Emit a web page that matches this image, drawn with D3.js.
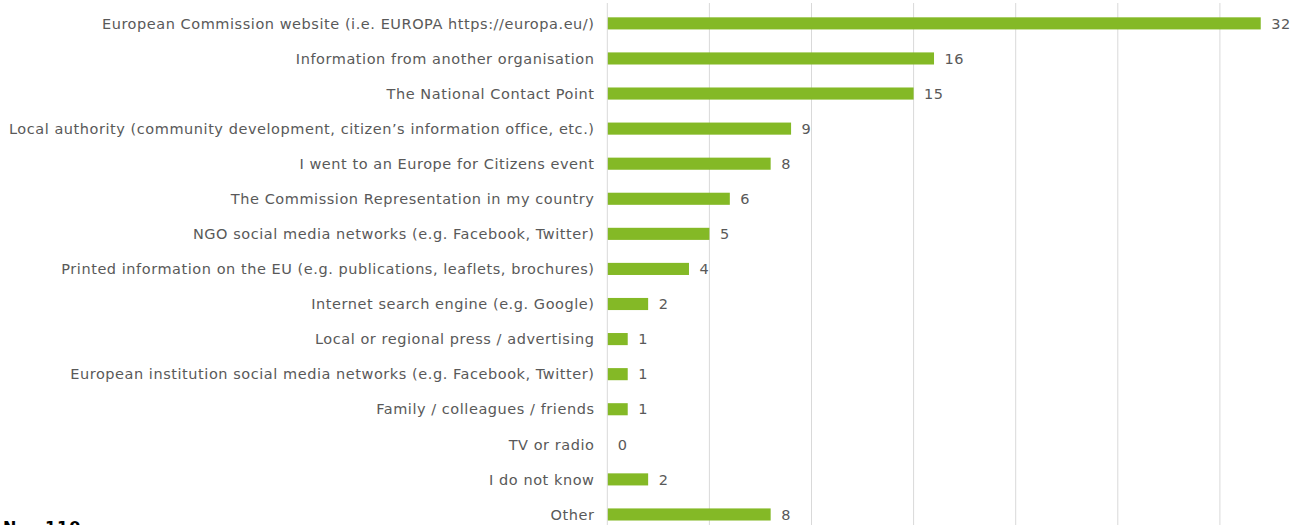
<!DOCTYPE html>
<html>
<head>
<meta charset="utf-8">
<script src="https://cdn.jsdelivr.net/npm/d3@7"></script>
<style>
html,body{margin:0;padding:0;background:#fff;overflow:hidden;}
svg{display:block;}
</style>
</head>
<body>
<svg id="chart" width="1293" height="525"></svg>
<script>
const categories = [
  "European Commission website (i.e. EUROPA https://europa.eu/)",
  "Information from another organisation",
  "The National Contact Point",
  "Local authority (community development, citizen\u2019s information office, etc.)",
  "I went to an Europe for Citizens event",
  "The Commission Representation in my country",
  "NGO social media networks (e.g. Facebook, Twitter)",
  "Printed information on the EU (e.g. publications, leaflets, brochures)",
  "Internet search engine (e.g. Google)",
  "Local or regional press / advertising",
  "European institution social media networks (e.g. Facebook, Twitter)",
  "Family / colleagues / friends",
  "TV or radio",
  "I do not know",
  "Other"
];
const values = [32, 16, 15, 9, 8, 6, 5, 4, 2, 1, 1, 1, 0, 2, 8];
const gridTicks = [5, 10, 15, 20, 25, 30, 35];
const note = "N = 110";

const svg = d3.select("#chart");
const x0 = 607.3, unit = 20.42;
const x = d3.scaleLinear().domain([0, 35]).range([x0, x0 + 35 * unit]);
const y = d3.scaleBand().domain(categories).range([5.75, 5.75 + 35.09 * 15]).paddingInner(0.655).paddingOuter(0.33);

const font = "'DejaVu Sans', Verdana, sans-serif";

// gridlines
svg.append("g").selectAll("line").data(gridTicks).join("line")
  .attr("x1", d => x(d)).attr("x2", d => x(d))
  .attr("y1", 3).attr("y2", 525)
  .attr("stroke", "#d9d9d9").attr("stroke-width", 1);

// bars
svg.append("g").selectAll("rect").data(values).join("rect")
  .attr("x", x(0))
  .attr("y", (d, i) => y(categories[i]))
  .attr("width", d => x(d) - x(0))
  .attr("height", y.bandwidth())
  .attr("fill", "#84b926");

// axis line
svg.append("line")
  .attr("x1", x(0)).attr("x2", x(0)).attr("y1", 3).attr("y2", 525)
  .attr("stroke", "#d9d9d9").attr("stroke-width", 1);

// category labels
svg.append("g").selectAll("text").data(categories).join("text")
  .attr("x", 594.5)
  .attr("y", d => y(d) + y.bandwidth() / 2)
  .attr("dy", "0.36em")
  .attr("text-anchor", "end")
  .attr("font-family", font)
  .attr("font-size", 14.5)
  .attr("letter-spacing", 0.55)
  .attr("fill", "#595959")
  .text(d => d);

// value labels
svg.append("g").selectAll("text").data(values).join("text")
  .attr("x", d => x(d) + 10.5)
  .attr("y", (d, i) => y(categories[i]) + y.bandwidth() / 2)
  .attr("dy", "0.36em")
  .attr("font-family", font)
  .attr("font-size", 14.5)
  .attr("letter-spacing", 0.55)
  .attr("fill", "#595959")
  .text(d => d);

svg.append("text")
  .attr("x", 3).attr("y", 533)
  .attr("font-family", font)
  .attr("font-weight", "bold")
  .attr("font-size", 16)
  .attr("letter-spacing", 1)
  .attr("fill", "#000")
  .text(note);
</script>
</body>
</html>
